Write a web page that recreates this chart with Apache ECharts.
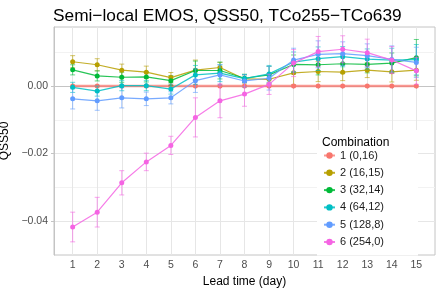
<!DOCTYPE html>
<html>
<head>
<meta charset="utf-8">
<script src="https://cdn.jsdelivr.net/npm/echarts@6/dist/echarts.min.js"></script>
<style>html,body{margin:0;padding:0;background:#fff}#c{width:441px;height:289px}</style>
</head>
<body>
<div id="c"></div>
<script>
const leadTimes = [1,2,3,4,5,6,7,8,9,10,11,12,13,14,15];
const combos = ['1 (0,16)','2 (16,15)','3 (32,14)','4 (64,12)','5 (128,8)','6 (254,0)'];
const colors = ['#F8766D','#B79F00','#00BA38','#00BFC4','#619CFF','#F564E3'];
const c1 = [0,0,0,0,0,0,0,0,0,0,0,0,0,0,0];
const c2 = [0.0072,0.0063,0.0047,0.0041,0.0025,0.0047,0.0055,0.0021,0.0020,0.0039,0.0043,0.0041,0.0047,0.0042,0.0047];
const c3 = [0.0048,0.0030,0.0026,0.0027,0.0016,0.0046,0.0046,0.0023,0.0033,0.0064,0.0063,0.0066,0.0064,0.0068,0.0084];
const c4 = [-0.0004,-0.0015,0.0001,0.0001,-0.0009,0.0033,0.0038,0.0022,0.0036,0.0071,0.0081,0.0087,0.0080,0.0077,0.0078];
const c5 = [-0.0038,-0.0044,-0.0035,-0.0038,-0.0035,0.0016,0.0033,0.0015,0.0023,0.0077,0.0094,0.0096,0.0090,0.0079,0.0070];
const c6 = [-0.0418,-0.0374,-0.0287,-0.0225,-0.0176,-0.0093,-0.0044,-0.0024,0.0005,0.0068,0.0102,0.0109,0.0099,0.0077,0.0045];
const e1 = [0,0,0,0,0,0,0,0,0,0,0,0,0,0,0];
const e2 = [0.0018,0.0018,0.0018,0.0018,0.0015,0.0030,0.0015,0.0012,0.0015,0.0035,0.0030,0.0025,0.0022,0.0030,0.0030];
const e3 = [0.0015,0.0015,0.0015,0.0015,0.0015,0.0028,0.0025,0.0012,0.0025,0.0028,0.0030,0.0028,0.0025,0.0030,0.0054];
const e4 = [0.0015,0.0015,0.0015,0.0015,0.0015,0.0028,0.0025,0.0012,0.0025,0.0030,0.0035,0.0030,0.0030,0.0035,0.0045];
const e5 = [0.0030,0.0028,0.0030,0.0020,0.0018,0.0035,0.0030,0.0018,0.0035,0.0035,0.0040,0.0035,0.0035,0.0040,0.0045];
const e6 = [0.0044,0.0044,0.0036,0.0026,0.0027,0.0058,0.0050,0.0036,0.0030,0.0040,0.0045,0.0040,0.0040,0.0040,0.0040];
const yMajor = [-0.04,-0.02,0];
const yMinor = [-0.03,-0.01,0.01];

const values = [c1,c2,c3,c4,c5,c6];
const errs = [e1,e2,e3,e4,e5,e6];
const FONT = '"Liberation Sans", Arial, sans-serif';

const series = [];
values.forEach((vals, k) => {
  if (k > 0) {
    series.push({
      type: 'custom',
      name: 'err' + k,
      z: 2 + k,
      silent: true,
      data: leadTimes.map((x, i) => [x, vals[i] - errs[k][i], vals[i] + errs[k][i]]),
      renderItem: function (params, api) {
        const lo = api.coord([api.value(0), api.value(1)]);
        const hi = api.coord([api.value(0), api.value(2)]);
        const w = 2.5;
        const st = { stroke: colors[k], lineWidth: 1, opacity: 0.6 };
        return {
          type: 'group',
          children: [
            { type: 'line', shape: { x1: lo[0], y1: lo[1], x2: hi[0], y2: hi[1] }, style: st },
            { type: 'line', shape: { x1: lo[0]-w, y1: lo[1], x2: lo[0]+w, y2: lo[1] }, style: st },
            { type: 'line', shape: { x1: hi[0]-w, y1: hi[1], x2: hi[0]+w, y2: hi[1] }, style: st }
          ]
        };
      }
    });
  }
  series.push({
    type: 'line',
    name: combos[k],
    z: 3 + k,
    data: leadTimes.map((x, i) => [x, vals[i]]),
    symbol: 'circle',
    symbolSize: 5,
    lineStyle: { color: colors[k], width: k === 0 ? 2.5 : 1.2, opacity: k === 0 ? 0.75 : 0.85 },
    itemStyle: { color: colors[k] },
    emphasis: { disabled: true },
    animation: false
  });
});

const chart = echarts.init(document.getElementById('c'), null, { renderer: 'canvas' });
chart.setOption({
  animation: false,
  backgroundColor: '#fff',
  title: [
    { text: 'Semi\u2212local EMOS, QSS50, TCo255\u2212TCo639', left: 48, top: 3,
      textStyle: { fontFamily: FONT, fontSize: 17.3, fontWeight: 'normal', color: '#000' } },
    { text: 'Combination', left: 317, top: 132, z: 10,
      textStyle: { fontFamily: FONT, fontSize: 12, fontWeight: 'normal', color: '#000' } }
  ],
  grid: { left: 54, right: 6, top: 27, bottom: 34, containLabel: false, outerBoundsMode: 'none',
    show: true, borderColor: '#c4c4c4', borderWidth: 1 },
  legend: {
    orient: 'vertical',
    left: 317, top: 130,
    data: combos,
    itemWidth: 11, itemHeight: 8, itemGap: 6.3,
    padding: [20, 34, 8, 6],
    backgroundColor: '#fff',
    z: 5,
    textStyle: { fontFamily: FONT, fontSize: 11, color: '#1a1a1a' },
    selectedMode: false
  },
  xAxis: {
    type: 'value', min: 0.24, max: 15.76,
    name: 'Lead time (day)', nameLocation: 'middle', nameGap: 16,
    nameTextStyle: { fontFamily: FONT, fontSize: 12, color: '#000' },
    axisLine: { show: true, lineStyle: { color: '#c4c4c4' } },
    axisTick: { show: true, length: 3, lineStyle: { color: '#c4c4c4' }, customValues: leadTimes },
    axisLabel: { customValues: leadTimes, fontFamily: FONT, fontSize: 10.5, color: '#4d4d4d', margin: 5 },
    splitLine: { show: true, lineStyle: { color: '#e6e6e6', width: 1 } }
  },
  yAxis: [{
    type: 'value', min: -0.0501, max: 0.0175,
    name: 'QSS50', nameLocation: 'middle', nameGap: 38,
    nameTextStyle: { fontFamily: FONT, fontSize: 12, color: '#000' },
    axisLine: { show: true, lineStyle: { color: '#c4c4c4' } },
    axisTick: { show: true, length: 3, lineStyle: { color: '#c4c4c4' }, customValues: yMajor },
    axisLabel: { customValues: yMajor, fontFamily: FONT, fontSize: 10.5, color: '#4d4d4d', margin: 6,
      formatter: v => (v < 0 ? '\u2212' : '') + Math.abs(v).toFixed(2) },
    splitLine: { show: true, lineStyle: { color: '#e6e6e6', width: 1 } }
  }, {
    type: 'value', min: -0.0501, max: 0.0175, position: 'left',
    axisLine: { show: false }, axisLabel: { show: false, customValues: yMinor },
    axisTick: { show: false, customValues: yMinor },
    splitLine: { show: true, lineStyle: { color: '#f2f2f2', width: 1 } }
  }],
  series: series
});
</script>
</body>
</html>
